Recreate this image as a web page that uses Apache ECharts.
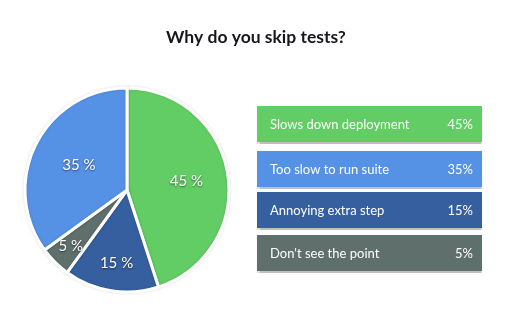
<!DOCTYPE html>
<html>
<head>
<meta charset="utf-8">
<script src="https://cdn.jsdelivr.net/npm/echarts@6/dist/echarts.min.js"></script>
<style>
html,body{margin:0;padding:0;background:#fff;}
#chart{width:512px;height:324px;}
</style>
</head>
<body>
<div id="chart"></div>
<script>
// Data
var titleText = 'Why do you skip tests?';
var categories = ['Slows down deployment', 'Annoying extra step', "Don't see the point", 'Too slow to run suite'];
var values = [45, 15, 5, 35];
var colors = ['#62CD64', '#355F9E', '#5E6F6C', '#5591E5'];
// legend order (indices into categories)
var legendOrder = [0, 3, 1, 2];

// Layout (styles only)
var labelOffsets = [[6, 0], [-2, 20], [-18, 18], [0, 0]];
var boxTops = [106, 151, 192, 235];
var boxLeft = 257, boxWidth = 225, boxHeight = 36;

var chart = echarts.init(document.getElementById('chart'), null, {renderer: 'canvas'});

var pieData = categories.map(function (c, i) {
  return {
    name: c,
    value: values[i],
    itemStyle: {color: colors[i]},
    label: {offset: labelOffsets[i]}
  };
});

var graphics = [];
legendOrder.forEach(function (idx, k) {
  var top = boxTops[k];
  graphics.push({
    type: 'rect',
    x: boxLeft, y: top,
    shape: {width: boxWidth, height: boxHeight},
    style: {fill: colors[idx], shadowColor: 'rgba(0,0,0,0.25)', shadowOffsetY: 1.5, shadowBlur: 1}
  });
  graphics.push({
    type: 'text',
    x: boxLeft + 13, y: top + boxHeight / 2 + 0.5,
    style: {text: categories[idx], fill: '#ffffff', font: '13px Lato', textAlign: 'left', textVerticalAlign: 'middle'}
  });
  graphics.push({
    type: 'text',
    x: boxLeft + boxWidth - 9, y: top + boxHeight / 2 + 0.5,
    style: {text: values[idx] + '%', fill: '#ffffff', font: '13px Lato', textAlign: 'right', textVerticalAlign: 'middle'}
  });
});

chart.setOption({
  animation: false,
  backgroundColor: '#ffffff',
  title: {
    text: titleText,
    left: 'center',
    top: 23,
    textStyle: {fontFamily: 'Lato', fontWeight: 'bold', fontSize: 17.5, color: '#16161f'}
  },
  series: [{
    type: 'pie',
    center: [127, 190],
    radius: [0, 102],
    startAngle: 90,
    clockwise: true,
    avoidLabelOverlap: false,
    data: pieData,
    itemStyle: {borderColor: '#ffffff', borderWidth: 3, shadowColor: 'rgba(0,0,0,0.12)', shadowBlur: 3},
    label: {
      position: 'inside',
      formatter: '{c} %',
      color: '#ffffff',
      fontFamily: 'Lato',
      fontSize: 15,
      textShadowColor: 'rgba(0,0,0,0.55)',
      textShadowBlur: 2,
      textShadowOffsetY: 1
    },
    labelLine: {show: false},
    emphasis: {disabled: true}
  }],
  graphic: graphics
});
</script>
</body>
</html>
